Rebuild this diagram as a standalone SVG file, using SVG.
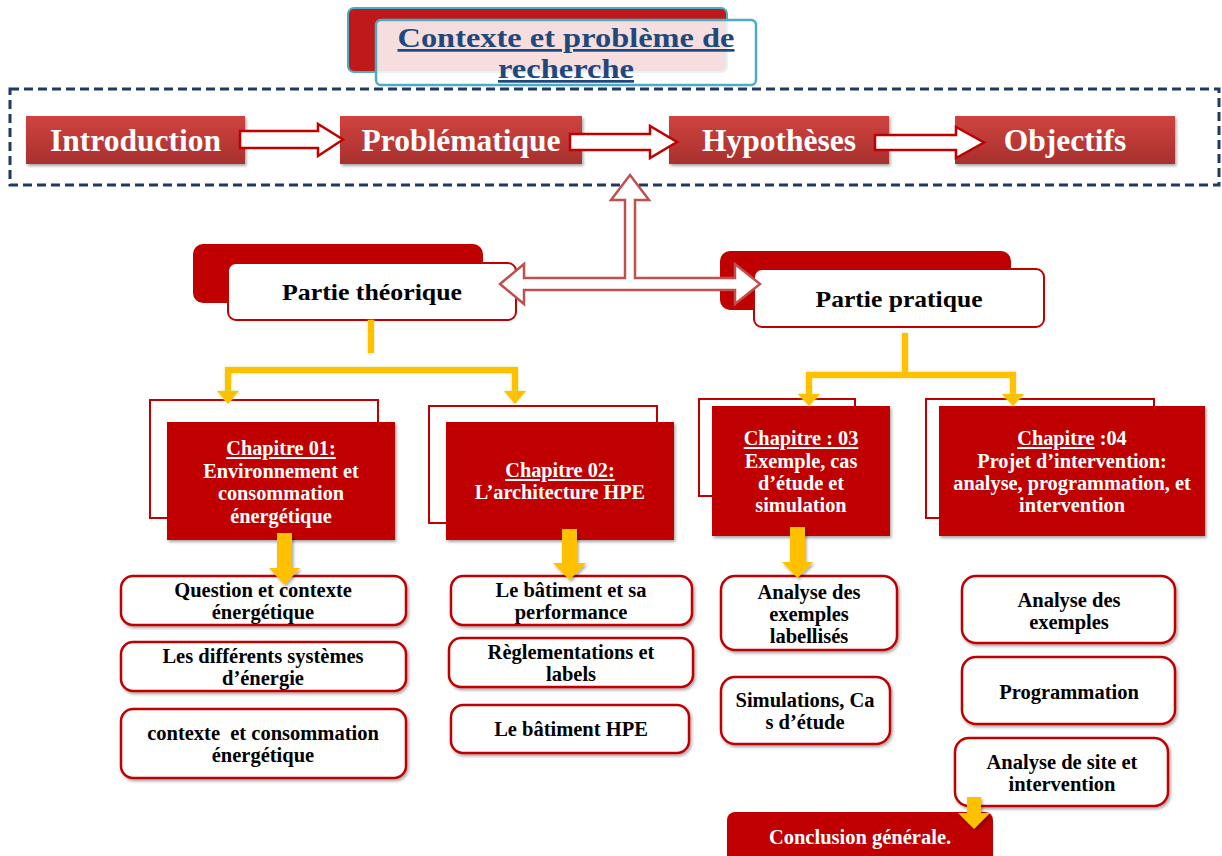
<svg xmlns="http://www.w3.org/2000/svg" width="1222" height="856" viewBox="0 0 1222 856">
<defs>
<linearGradient id="gRed" x1="0" y1="0" x2="0" y2="1">
<stop offset="0" stop-color="#D0433F"/>
<stop offset="1" stop-color="#A8302E"/>
</linearGradient>
<filter id="sh" x="-10%" y="-10%" width="125%" height="130%">
<feDropShadow dx="1.5" dy="2" stdDeviation="1.5" flood-color="#000" flood-opacity="0.35"/>
</filter>
<filter id="glow" filterUnits="userSpaceOnUse" x="0" y="0" width="1222" height="856">
<feGaussianBlur in="SourceAlpha" stdDeviation="1.5" result="b"/>
<feFlood flood-color="#C9E07A" flood-opacity="0.9"/>
<feComposite in2="b" operator="in" result="g"/>
<feMerge><feMergeNode in="g"/><feMergeNode in="SourceGraphic"/></feMerge>
</filter>
<style>
text{font-family:"Liberation Serif","Times New Roman",serif;font-weight:bold;text-anchor:middle}
.top{fill:url(#gRed);filter:url(#sh)}
.topt{fill:#FFFFFF;font-size:31.5px}
.chb{fill:#FFFFFF;stroke:#C00000;stroke-width:2}
.chf{fill:#C00000;filter:url(#sh)}
.cht{fill:#FFFFFF;font-size:20.3px}
.sub{fill:#FFFFFF;stroke:#C00000;stroke-width:2.5;filter:url(#sh)}
.subt{fill:#000000;font-size:20.5px}
.wa{fill:#FFFFFF;stroke:#C00000;stroke-width:2.5;stroke-linejoin:miter}
.ya{fill:none;stroke:#FFC000;stroke-width:6;filter:url(#glow)}
.yh{fill:#FFC000;filter:url(#glow)}
.yb{fill:#FFC000;filter:url(#sh)}
</style>
</defs>
<rect width="1222" height="856" fill="#FFFFFF"/>

<g id="title">
<rect x="348" y="8" width="379" height="64" rx="6" fill="#C0191B" stroke="#4BACC6" stroke-width="2"/>
<rect x="376" y="20" width="380" height="65" rx="5" fill="#FFFFFF" fill-opacity="0.86" stroke="#4BACC6" stroke-width="2.5"/>
<text x="566" y="47" font-size="27" fill="#1F497D" text-decoration="underline" textLength="337" lengthAdjust="spacingAndGlyphs">Contexte et problème de</text>
<text x="566" y="78" font-size="27" fill="#1F497D" text-decoration="underline" textLength="136" lengthAdjust="spacingAndGlyphs">recherche</text>
</g>

<g id="frame">
<rect x="10" y="89" width="1209" height="96" fill="none" stroke="#1F3864" stroke-width="3" stroke-dasharray="9 5"/>
</g>

<g id="introduction">
<rect class="top" x="26" y="116" width="219" height="48"/>
<text class="topt" x="135.5" y="151">Introduction</text>
</g>
<g id="problematique">
<rect class="top" x="340" y="116" width="242" height="48"/>
<text class="topt" x="461" y="151">Problématique</text>
</g>
<g id="hypotheses">
<rect class="top" x="669" y="116" width="220" height="48"/>
<text class="topt" x="779" y="151">Hypothèses</text>
</g>
<g id="objectifs">
<rect class="top" x="955" y="116" width="220" height="48"/>
<text class="topt" x="1065" y="151">Objectifs</text>
</g>

<g id="partie-theorique">
<rect x="193" y="244" width="290" height="59" rx="10" fill="#C00000"/>
<rect x="228" y="263" width="288" height="57" rx="8" fill="#FFFFFF" stroke="#C00000" stroke-width="2"/>
<text x="372" y="300" font-size="24" fill="#000" textLength="180" lengthAdjust="spacingAndGlyphs">Partie théorique</text>
</g>
<g id="partie-pratique">
<rect x="720" y="251" width="291" height="59" rx="10" fill="#C00000"/>
<rect x="754" y="269" width="290" height="58" rx="8" fill="#FFFFFF" stroke="#C00000" stroke-width="2"/>
<text x="899" y="307" font-size="24" fill="#000" textLength="167" lengthAdjust="spacingAndGlyphs">Partie pratique</text>
</g>

<g id="chapitre-01">
<rect class="chb" x="150" y="400" width="228" height="118"/>
<rect class="chf" x="167" y="422" width="228" height="118"/>
<text class="cht" x="281" y="455"><tspan text-decoration="underline">Chapitre 01:</tspan></text>
<text class="cht" x="281" y="477.5">Environnement et</text>
<text class="cht" x="281" y="500">consommation</text>
<text class="cht" x="281" y="522.5">énergétique</text>
</g>
<g id="chapitre-02">
<rect class="chb" x="429" y="406" width="228" height="117"/>
<rect class="chf" x="446" y="422" width="228" height="118"/>
<text class="cht" x="560" y="477"><tspan text-decoration="underline">Chapitre 02:</tspan></text>
<text class="cht" x="560" y="499">L’architecture HPE</text>
</g>
<g id="chapitre-03">
<rect class="chb" x="699" y="399" width="156" height="97"/>
<rect class="chf" x="712" y="406" width="178" height="130"/>
<text class="cht" x="801" y="445"><tspan text-decoration="underline">Chapitre : 03</tspan></text>
<text class="cht" x="801" y="467.5">Exemple, cas</text>
<text class="cht" x="801" y="490">d’étude et</text>
<text class="cht" x="801" y="512">simulation</text>
</g>
<g id="chapitre-04">
<rect class="chb" x="926" y="399" width="228" height="119"/>
<rect class="chf" x="939" y="406" width="266" height="130"/>
<text class="cht" x="1072" y="445"><tspan text-decoration="underline">Chapitre</tspan> :04</text>
<text class="cht" x="1072" y="467.5">Projet d’intervention:</text>
<text class="cht" x="1072" y="490">analyse, programmation, et</text>
<text class="cht" x="1072" y="512">intervention</text>
</g>

<g id="s-question">
<rect class="sub" x="121" y="576" width="285" height="49" rx="12"/>
<text class="subt" x="263" y="597">Question et contexte</text>
<text class="subt" x="263" y="619">énergétique</text>
</g>
<g id="s-systemes">
<rect class="sub" x="121" y="642" width="285" height="49" rx="12"/>
<text class="subt" x="263" y="663">Les différents systèmes</text>
<text class="subt" x="263" y="685">d’énergie</text>
</g>
<g id="s-contexte">
<rect class="sub" x="121" y="709" width="285" height="69" rx="12"/>
<text class="subt" x="263" y="740" xml:space="preserve">contexte  et consommation</text>
<text class="subt" x="263" y="762">énergétique</text>
</g>
<g id="s-batiment">
<rect class="sub" x="451" y="576" width="241" height="49" rx="12"/>
<text class="subt" x="571" y="597">Le bâtiment et sa</text>
<text class="subt" x="571" y="619">performance</text>
</g>
<g id="s-reglementations">
<rect class="sub" x="449" y="638" width="244" height="49" rx="12"/>
<text class="subt" x="571" y="659">Règlementations et</text>
<text class="subt" x="571" y="681">labels</text>
</g>
<g id="s-hpe">
<rect class="sub" x="451" y="705" width="238" height="48" rx="12"/>
<text class="subt" x="571" y="736">Le bâtiment HPE</text>
</g>
<g id="s-analyse-labellises">
<rect class="sub" x="721" y="576" width="176" height="74" rx="14"/>
<text class="subt" x="809" y="599">Analyse des</text>
<text class="subt" x="809" y="621">exemples</text>
<text class="subt" x="809" y="643">labellisés</text>
</g>
<g id="s-simulations">
<rect class="sub" x="721" y="677" width="169" height="67" rx="14"/>
<text class="subt" x="805" y="707">Simulations, Ca</text>
<text class="subt" x="805" y="729">s d’étude</text>
</g>
<g id="s-analyse-exemples">
<rect class="sub" x="962" y="576" width="213" height="67" rx="14"/>
<text class="subt" x="1069" y="607">Analyse des</text>
<text class="subt" x="1069" y="629">exemples</text>
</g>
<g id="s-programmation">
<rect class="sub" x="962" y="657" width="213" height="67" rx="14"/>
<text class="subt" x="1069" y="699">Programmation</text>
</g>
<g id="s-site">
<rect class="sub" x="955" y="738" width="213" height="68" rx="14"/>
<text class="subt" x="1062" y="769">Analyse de site et</text>
<text class="subt" x="1062" y="791">intervention</text>
</g>
<g id="conclusion">
<rect x="727" y="812" width="266" height="60" rx="8" fill="#C00000"/>
<text x="860" y="844" font-size="20.5" fill="#FFFFFF">Conclusion générale.</text>
</g>

<g id="connectors">
<path class="wa" d="M240,131 H318 V124 L343,139.5 L318,156 V148 H240 Z"/>
<path class="wa" d="M570,134 H650 V126 L677,142 L650,158 V150 H570 Z"/>
<path class="wa" d="M875,135 H956 V127 L984,142.5 L956,158 V150 H875 Z"/>
<path d="M500,284 L524,264 V278 H625 V200 H611 L630,175 L649,200 H635 V278 H735 V264 L760,284 L735,304 V290 H524 V304 Z" fill="#FFFFFF" stroke="#C0504D" stroke-width="2.5" stroke-linejoin="miter"/>
<path class="ya" d="M371,320 V353"/>
<path class="ya" d="M228,393 V370 H515 V393"/>
<path class="yh" d="M217,391 H239 L228,404 Z"/>
<path class="yh" d="M504,391 H526 L515,404 Z"/>
<path class="ya" d="M905,333 V375"/>
<path class="ya" d="M809,396 V375 H1013 V396"/>
<path class="yh" d="M798,394 H820 L809,406 Z"/>
<path class="yh" d="M1002,394 H1024 L1013,406 Z"/>
<path class="yb" d="M277,533 H292 V568 H300 L284.5,585 L269,568 H277 Z"/>
<path class="yb" d="M562,529 H577 V563 H586 L569.5,580 L553,563 H562 Z"/>
<path class="yb" d="M790,527 H805 V562 H813 L797.5,578 L782,562 H790 Z"/>
<path class="yb" d="M967,797 H981 V813 H990 L974,829 L958,813 H967 Z"/>
</g>
</svg>
